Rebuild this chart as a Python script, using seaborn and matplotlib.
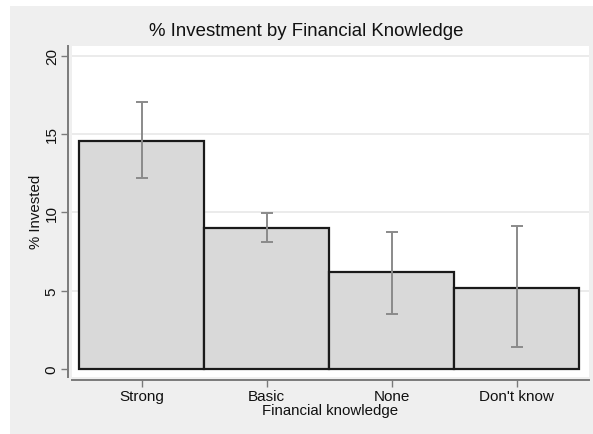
import matplotlib
matplotlib.use("Agg")
import matplotlib.pyplot as plt
import seaborn as sns
import pandas as pd
from matplotlib.patches import Rectangle

categories = ["Strong", "Basic", "None", "Don't know"]
pct_invested = [14.55, 8.98, 6.17, 5.19]
ci_low = [12.19, 8.08, 3.53, 1.38]
ci_high = [17.04, 9.96, 8.76, 9.15]
yticks = [0, 5, 10, 15, 20]

sns.set_theme(style="white")
plt.rcParams['font.family'] = ['Liberation Sans', 'DejaVu Sans']

W, H = 593, 435
fig = plt.figure(figsize=(W / 100, H / 100), dpi=100, facecolor="white")
fig.patches.append(Rectangle((10 / W, 0), 1 - 10 / W, 1 - 7 / H, transform=fig.transFigure,
                             facecolor="#efefef", edgecolor="none", zorder=-10))

ax = fig.add_axes([72 / W, (H - 378) / H, (589 - 72) / W, (378 - 46.7) / H])
ax.set_facecolor("white")

df = pd.DataFrame({"knowledge": categories, "pct": pct_invested})
sns.barplot(data=df, x="knowledge", y="pct", order=categories, errorbar=None,
            width=1.0, color="#d9d9d9", saturation=1, edgecolor="#1a1a1a",
            linewidth=1.6, ax=ax, zorder=2)

xs = list(range(len(categories)))
yerr = [[p - lo for p, lo in zip(pct_invested, ci_low)],
        [hi - p for p, hi in zip(pct_invested, ci_high)]]
ax.errorbar(xs, pct_invested, yerr=yerr, fmt="none", ecolor="#8a8a8a",
            elinewidth=1.4, capsize=4.5, capthick=1.4, zorder=3)

ax.set_ylim(-0.51, 20.63)
ax.set_xlim(-0.56, 3.58)
ax.set_yticks(yticks)
ax.set_yticklabels([str(t) for t in yticks], fontsize=10.8)
ax.set_xticks(xs)
ax.set_xticklabels(categories, fontsize=10.8)
for t in yticks[1:]:
    ax.axhline(t, color="#e8e8e8", lw=1.2, zorder=0)

for s in ["top", "right"]:
    ax.spines[s].set_visible(False)
ax.spines["left"].set_position(("outward", 3))
ax.spines["bottom"].set_position(("outward", 2))
for s in ["left", "bottom"]:
    ax.spines[s].set_color("#7a7a7a")
    ax.spines[s].set_linewidth(1.4)
ax.tick_params(axis="both", which="both", length=5, width=1, color="#7a7a7a",
               labelcolor="#111111", direction="out", pad=3)
ax.tick_params(axis="x", pad=2)
ax.tick_params(axis="y", labelrotation=90, pad=1.5)
for lbl in ax.get_yticklabels():
    lbl.set_va("center")
ax.xaxis.set_ticks_position("bottom")
ax.yaxis.set_ticks_position("left")

ax.set_xlabel("Financial knowledge", fontsize=10.8, color="#111111", labelpad=0)
ax.set_ylabel("% Invested", fontsize=10.8, color="#111111", labelpad=1)

fig.text(306 / W, 1 - 32 / H, "% Investment by Financial Knowledge", ha="center", va="center",
         fontsize=13.4, color="#111111")

fig.savefig("out.png", dpi=100, facecolor="white")
